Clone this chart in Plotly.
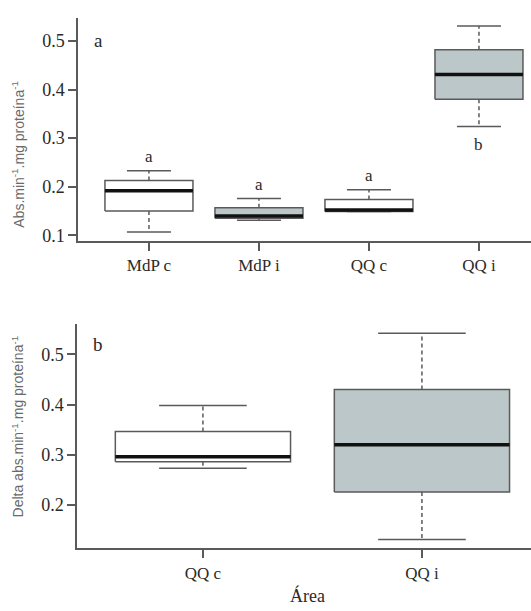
import plotly.graph_objects as go

# ---------------- data ----------------
cats_a = ["MdP c", "MdP i", "QQ c", "QQ i"]
lower_a = [0.107, 0.131, 0.149, 0.324]
q1_a = [0.150, 0.135, 0.149, 0.380]
med_a = [0.192, 0.140, 0.152, 0.431]
q3_a = [0.213, 0.157, 0.174, 0.482]
upper_a = [0.233, 0.176, 0.194, 0.531]
fill_a = ["white", "#bcc7c9", "white", "#bcc7c9"]
letters_a = ["a", "a", "a", "b"]
letter_side_a = ["above", "above", "above", "below"]

cats_b = ["QQ c", "QQ i"]
lower_b = [0.273, 0.131]
q1_b = [0.286, 0.226]
med_b = [0.296, 0.320]
q3_b = [0.3465, 0.430]
upper_b = [0.398, 0.542]
fill_b = ["white", "#bcc7c9"]

yticks_a = [0.1, 0.2, 0.3, 0.4, 0.5]
yticks_b = [0.2, 0.3, 0.4, 0.5]

# ---------------- style ----------------
W, H = 531, 611
SERIF = "Liberation Serif, DejaVu Serif, serif"
SANS = "Liberation Sans, Arial, sans-serif"
AX = "#5a5a5a"
TXT = "#2a2a2a"
BOXW = 0.4
CAPW = 0.2

fig = go.Figure()


def add_boxes(xa, ya, lower, q1, med, q3, upper, fills):
    for i in range(len(med)):
        # whiskers (dashed)
        for a, b in ((q3[i], upper[i]), (q1[i], lower[i])):
            fig.add_trace(go.Scatter(x=[i, i], y=[a, b], mode="lines", xaxis=xa, yaxis=ya,
                                     line=dict(color=AX, width=1.5, dash="4px,3px"),
                                     hoverinfo="skip", showlegend=False))
        # caps
        for v in (upper[i], lower[i]):
            fig.add_trace(go.Scatter(x=[i - CAPW, i + CAPW], y=[v, v], mode="lines", xaxis=xa, yaxis=ya,
                                     line=dict(color=AX, width=1.5),
                                     hoverinfo="skip", showlegend=False))
        # box
        fig.add_trace(go.Scatter(x=[i - BOXW, i + BOXW, i + BOXW, i - BOXW, i - BOXW],
                                 y=[q1[i], q1[i], q3[i], q3[i], q1[i]],
                                 mode="lines", fill="toself", fillcolor=fills[i],
                                 xaxis=xa, yaxis=ya,
                                 line=dict(color=AX, width=1.5),
                                 hoverinfo="skip", showlegend=False))
        # median
        fig.add_trace(go.Scatter(x=[i - BOXW, i + BOXW], y=[med[i], med[i]], mode="lines",
                                 xaxis=xa, yaxis=ya,
                                 line=dict(color="#111111", width=3.5),
                                 hoverinfo="skip", showlegend=False))


add_boxes("x", "y", lower_a, q1_a, med_a, q3_a, upper_a, fill_a)
add_boxes("x2", "y2", lower_b, q1_b, med_b, q3_b, upper_b, fill_b)

# significance letters
for i, (lt, side) in enumerate(zip(letters_a, letter_side_a)):
    yv = upper_a[i] if side == "above" else lower_a[i]
    fig.add_annotation(x=i, y=yv, xref="x", yref="y", text=lt, showarrow=False,
                       xanchor="center", yanchor="middle",
                       yshift=14 if side == "above" else -18,
                       font=dict(family=SERIF, size=17, color=TXT))


def px_x(p):
    return p / W


def px_y(p):
    return 1 - p / H


axis_common = dict(showline=True, linecolor=AX, linewidth=1.5, ticks="outside",
                   tickcolor=AX, ticklen=8, tickwidth=1.5, showgrid=False, zeroline=False)

fig.update_layout(
    width=W, height=H,
    margin=dict(l=0, r=0, t=0, b=0),
    paper_bgcolor="white", plot_bgcolor="white",
    showlegend=False,
    xaxis=dict(domain=[px_x(78), 1], range=[-0.645, 3.473],
               tickvals=list(range(len(cats_a))), ticktext=cats_a,
               tickfont=dict(family=SERIF, size=17, color=TXT), anchor="y", **axis_common),
    yaxis=dict(domain=[px_y(243), px_y(18)], range=[0.0884, 0.5476],
               tickvals=yticks_a, ticktext=[f"{v:.1f}" for v in yticks_a],
               tickfont=dict(family=SERIF, size=18, color=TXT), anchor="x", **axis_common),
    xaxis2=dict(domain=[px_x(77), 1], range=[-0.575, 1.498],
                tickvals=list(range(len(cats_b))), ticktext=cats_b,
                tickfont=dict(family=SERIF, size=17, color=TXT), anchor="y2", **axis_common),
    yaxis2=dict(domain=[px_y(553), px_y(327)], range=[0.1132, 0.560],
                tickvals=yticks_b, ticktext=[f"{v:.1f}" for v in yticks_b],
                tickfont=dict(family=SERIF, size=18, color=TXT), anchor="x2", **axis_common),
)

# panel labels
for lbl, yy in (("a", 41), ("b", 347)):
    fig.add_annotation(x=px_x(98), y=px_y(yy), xref="paper", yref="paper", text=lbl, showarrow=False,
                       xanchor="center", yanchor="middle",
                       font=dict(family=SERIF, size=19, color=TXT))

# axis titles
fig.add_annotation(x=px_x(18), y=px_y(156), xref="paper", yref="paper", textangle=-90,
                   xanchor="center", yanchor="middle",
                   text="Abs.min<sup>-1</sup>.mg proteína<sup>-1</sup>", showarrow=False,
                   font=dict(family=SANS, size=14, color="#6a6a6a"))
fig.add_annotation(x=px_x(18), y=px_y(430), xref="paper", yref="paper", textangle=-90,
                   xanchor="center", yanchor="middle",
                   text="Delta abs.min<sup>-1</sup>.mg proteína<sup>-1</sup>", showarrow=False,
                   font=dict(family=SANS, size=14, color="#6a6a6a"))
fig.add_annotation(x=px_x(307), y=px_y(600), xref="paper", yref="paper", text="Área",
                   xanchor="center", yanchor="middle",
                   showarrow=False, font=dict(family=SERIF, size=18, color=TXT))

fig.write_html("out.html", config={"displayModeBar": False},
               post_script="document.body.style.margin='0px';")
